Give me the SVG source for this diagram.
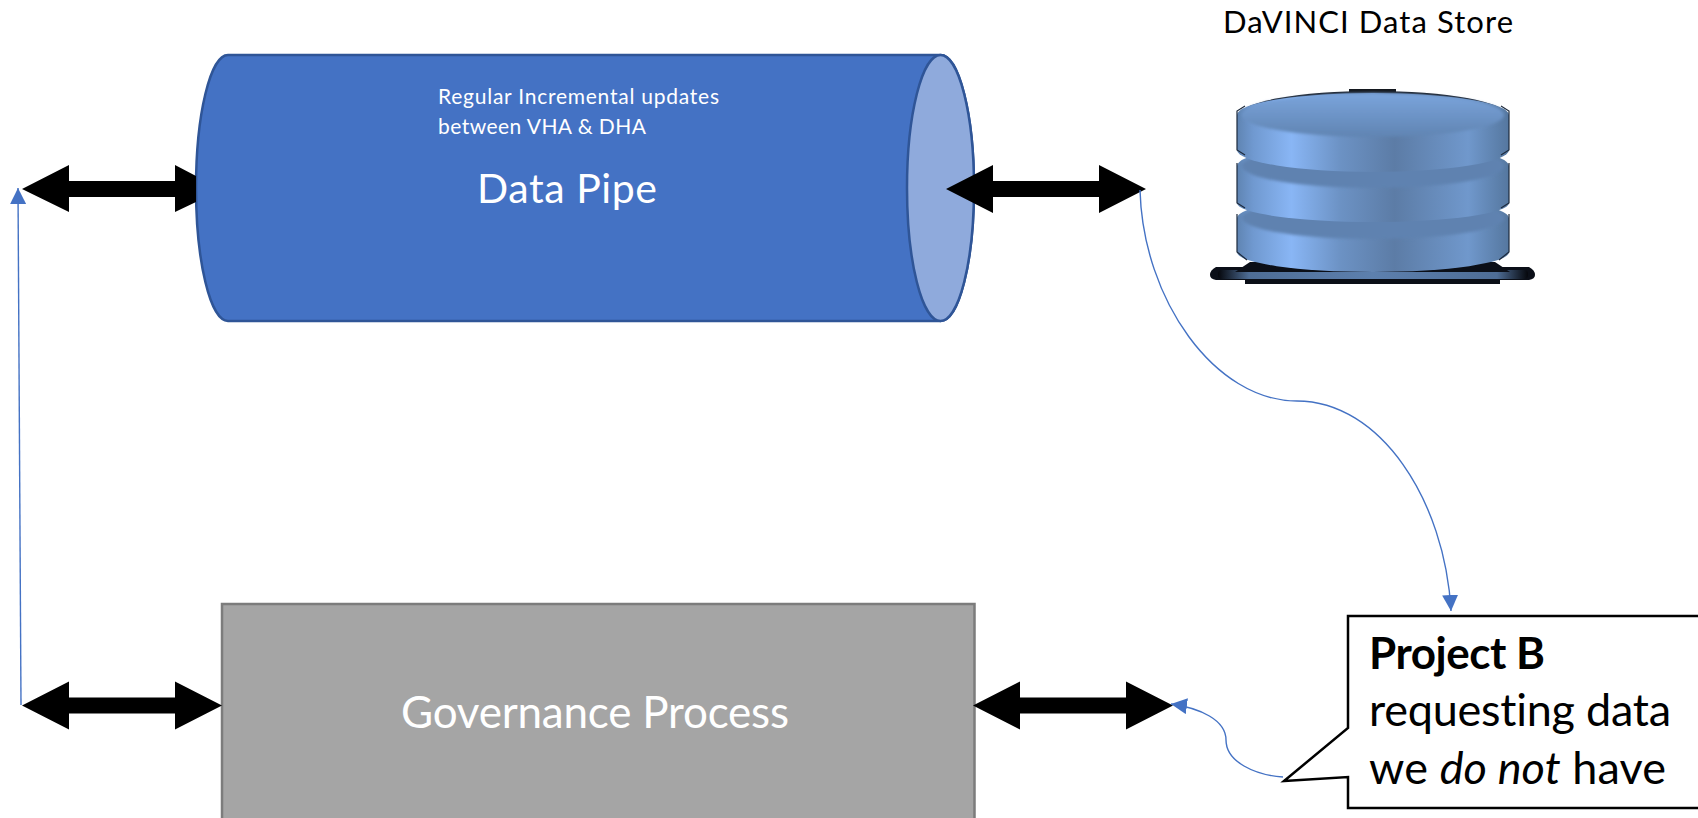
<svg xmlns="http://www.w3.org/2000/svg" width="1698" height="818" viewBox="0 0 1698 818">
<style>
text{font-family:"Lato","Carlito","Liberation Sans",sans-serif;font-variant-ligatures:none}
.w{fill:#fff}
.k{fill:#000}
.link{fill:none;stroke:#4472C4;stroke-width:1.4;marker-end:url(#head)}
.pipe{stroke:#2F5597;stroke-width:2.5}
.disc{fill:url(#band)}
.cap{fill:#5f82b0;filter:url(#soft)}
.edge{fill:none;stroke:#1d2a3c;stroke-width:1.2}
</style>
<defs>
<marker id="head" markerUnits="userSpaceOnUse" markerWidth="16" markerHeight="16" viewBox="0 0 16 16" refX="16" refY="8" orient="auto"><path d="M0 0L16 8L0 16Z" fill="#4472C4"/></marker>
<polygon id="dbl" points="0,0 47,-24 47,-8 153,-8 153,-24 200,0 153,24 153,8 47,8 47,24" fill="#000"/>
<filter id="soft" x="-5%" y="-20%" width="110%" height="140%"><feGaussianBlur stdDeviation="1.6"/></filter>
<linearGradient id="band" x1="0" x2="1" y1="0" y2="0">
<stop offset="0" stop-color="#5f84b2"/><stop offset=".06" stop-color="#7099d0"/><stop offset=".2" stop-color="#89b6f5"/><stop offset=".38" stop-color="#6c92c4"/><stop offset=".58" stop-color="#5c7ca6"/><stop offset=".85" stop-color="#7098cc"/><stop offset="1" stop-color="#55779f"/>
</linearGradient>
<linearGradient id="lid" x1="0" x2="0" y1="0" y2="1"><stop offset="0" stop-color="#7aa4dc"/><stop offset="1" stop-color="#6084b2"/></linearGradient>
<linearGradient id="plate" x1="0" x2="1" y1="0" y2="0"><stop offset="0" stop-color="#05070c"/><stop offset=".1" stop-color="#4e6d96"/><stop offset=".5" stop-color="#5d80ae"/><stop offset=".9" stop-color="#4e6d96"/><stop offset="1" stop-color="#05070c"/></linearGradient>
</defs>
<rect width="1698" height="818" fill="#fff"/>
<g id="data-pipe">
<path class="pipe" fill="#4472C4" d="M228 55H940.5A33.5 133 0 0 1 940.5 321H228A32 133 0 0 1 228 55Z"/>
<ellipse class="pipe" cx="940.5" cy="188" rx="33.5" ry="133" fill="#8FAADC"/>
<text class="w" x="438" y="104" font-size="21" textLength="281" lengthAdjust="spacing">Regular Incremental updates</text>
<text class="w" x="438" y="134" font-size="21" textLength="208" lengthAdjust="spacing">between VHA &amp; DHA</text>
<text class="w" x="477" y="203" font-size="41" textLength="180" lengthAdjust="spacing">Data Pipe</text>
</g>
<g id="data-store">
<text class="k" x="1223" y="33" font-size="31" textLength="290" lengthAdjust="spacing">DaVINCI Data Store</text>
<path d="M1216 267H1529Q1535 270 1535 275Q1535 279 1529 280H1500V284H1245V280H1216Q1210 279 1210 275Q1210 270 1216 267Z" fill="#0b0f18"/>
<rect x="1218" y="270" width="310" height="9" rx="4" fill="url(#plate)"/>
<path d="M1250 262H1495L1510 272H1235Z" fill="#0b0f18"/>
<path class="disc" d="M1237 218V252A136 20 0 0 0 1509 252V218A136 21 0 0 0 1237 218Z"/>
<ellipse class="cap" cx="1373" cy="218" rx="131" ry="21"/>
<path class="edge" d="M1237 214V252L1247 260"/>
<path class="edge" d="M1509 214V252L1499 260"/>
<path class="disc" d="M1237 166V203A136 19 0 0 0 1509 203V166A136 22 0 0 0 1237 166Z"/>
<ellipse class="cap" cx="1373" cy="166" rx="131" ry="22"/>
<path class="edge" d="M1237 163V203L1245 208"/>
<path class="edge" d="M1509 163V203L1501 208"/>
<rect x="1349" y="89" width="47" height="4" fill="#14181f"/>
<ellipse cx="1373" cy="115" rx="133" ry="24" fill="#14181f"/>
<path class="disc" d="M1237 115V150A136 22 0 0 0 1509 150V115A136 22 0 0 0 1237 115Z"/>
<ellipse cx="1373" cy="115" rx="131" ry="22" fill="url(#lid)" filter="url(#soft)"/>
<path class="edge" d="M1245 106L1237 111V150L1245 155"/>
<path class="edge" d="M1501 106L1509 111V150L1501 155"/>
</g>
<g id="governance">
<rect x="222" y="604" width="752.5" height="230" fill="#A5A5A5" stroke="#7C7C7C" stroke-width="2.5"/>
<text class="w" x="401" y="728" font-size="44" textLength="388" lengthAdjust="spacing">Governance Process</text>
</g>
<g id="project-b">
<path d="M1348 616H1710V808H1348V777L1284 781L1348 728Z" fill="#fff" stroke="#000" stroke-width="2.5"/>
<text class="k" x="1369" y="669" font-size="44" font-weight="700" textLength="176" lengthAdjust="spacing">Project B</text>
<text class="k" x="1369" y="726" font-size="45" textLength="302" lengthAdjust="spacing">requesting data</text>
<text class="k" x="1369" y="784" font-size="45" textLength="297" lengthAdjust="spacing">we <tspan font-style="italic">do not</tspan> have</text>
</g>
<g id="connectors">
<polygon points="22,189 69,165 69,181 175,181 175,165 196,176 196,202 175,212 175,197 69,197 69,212" fill="#000"/>
<use href="#dbl" x="946" y="189"/>
<use href="#dbl" x="22" y="705.5"/>
<use href="#dbl" x="973" y="705.5"/>
<path class="link" d="M21 705L18 188"/>
<path class="link" d="M1140 190C1143 300 1215 401 1297 401C1380 401 1445 500 1451 611"/>
<path class="link" d="M1283 777C1255 775 1226 762 1226 740C1226 720 1200 708 1171 704"/>
</g>
</svg>
